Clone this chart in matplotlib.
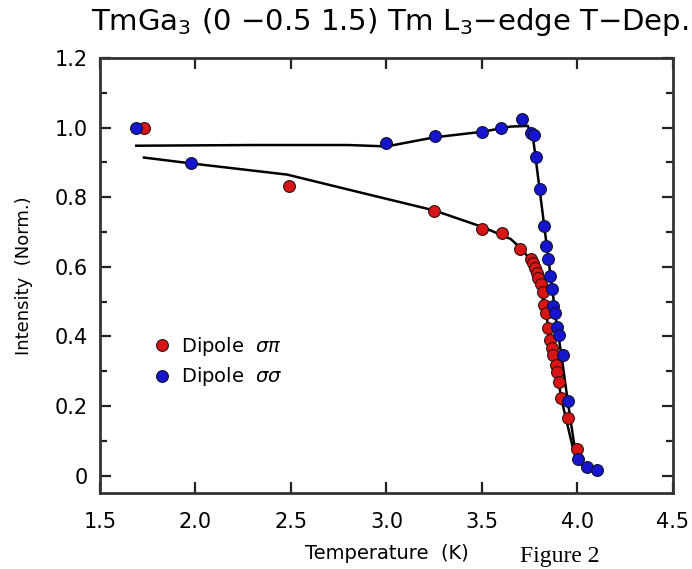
import matplotlib
matplotlib.use("Agg")
import matplotlib.pyplot as plt
from matplotlib.ticker import MultipleLocator, FuncFormatter

# sigma-sigma (blue) data
ss_T = [1.69, 1.976, 3.0, 3.254, 3.5, 3.60, 3.71, 3.757, 3.77, 3.783, 3.804, 3.825,
        3.835, 3.846, 3.856, 3.866, 3.872, 3.882, 3.893, 3.903, 3.924, 3.95, 4.003, 4.05, 4.102]
ss_I = [1.0, 0.897, 0.957, 0.977, 0.988, 1.0, 1.026, 0.986, 0.98, 0.917, 0.825, 0.716,
        0.659, 0.622, 0.573, 0.536, 0.487, 0.467, 0.427, 0.404, 0.347, 0.215, 0.049, 0.026, 0.017]

# sigma-pi (red) data
sp_T = [1.73, 2.49, 3.249, 3.5, 3.605, 3.70, 3.757, 3.767, 3.777, 3.788, 3.793, 3.809,
        3.819, 3.825, 3.835, 3.846, 3.856, 3.866, 3.872, 3.887, 3.893, 3.903, 3.914, 3.95, 3.997]
sp_I = [1.0, 0.831, 0.759, 0.708, 0.696, 0.65, 0.622, 0.61, 0.596, 0.582, 0.567, 0.55,
        0.527, 0.49, 0.467, 0.424, 0.39, 0.367, 0.347, 0.318, 0.298, 0.27, 0.224, 0.166, 0.077]

# fit curves
fit_ss_T = [1.69, 2.3, 2.8, 3.0, 3.25, 3.5, 3.65, 3.74, 3.77, 3.80, 3.83, 3.86, 3.89,
            3.92, 3.95, 3.98, 4.0, 4.05, 4.10]
fit_ss_I = [0.948, 0.950, 0.950, 0.946, 0.972, 0.988, 1.003, 1.005, 0.96, 0.83, 0.70, 0.57,
            0.44, 0.33, 0.21, 0.10, 0.05, 0.025, 0.018]
fit_sp_T = [1.73, 1.98, 2.48, 2.86, 3.25, 3.5, 3.65, 3.72, 3.77, 3.80, 3.83, 3.86, 3.89,
            3.92, 3.95, 3.98, 4.0, 4.05]
fit_sp_I = [0.914, 0.897, 0.865, 0.814, 0.762, 0.715, 0.68, 0.645, 0.60, 0.55, 0.48, 0.39,
            0.30, 0.21, 0.14, 0.07, 0.04, 0.02]

title = r"TmGa$_3$ (0 $-$0.5 1.5) Tm L$_3$$-$edge T$-$Dep."

fig = plt.figure(figsize=(6.92, 5.69), dpi=100)
ax = fig.add_axes([0.1445, 0.1336, 0.828, 0.7644])

red = "#d81515"
blue = "#1515d0"

ax.plot(fit_ss_T, fit_ss_I, color="black", lw=1.8, zorder=2)
ax.plot(fit_sp_T, fit_sp_I, color="black", lw=1.8, zorder=2)
ax.plot(sp_T, sp_I, "o", ms=8.5, mfc=red, mec="#301010", mew=0.8, zorder=3,
        label=r"Dipole  $\sigma\pi$")
ax.plot(ss_T, ss_I, "o", ms=8.5, mfc=blue, mec="#101030", mew=0.8, zorder=4,
        label=r"Dipole  $\sigma\sigma$")

ax.set_xlim(1.5, 4.5)
ax.set_ylim(-0.05, 1.2)
ax.xaxis.set_major_locator(MultipleLocator(0.5))
ax.yaxis.set_major_locator(MultipleLocator(0.2))
ax.yaxis.set_minor_locator(MultipleLocator(0.1))
ax.yaxis.set_major_formatter(FuncFormatter(lambda v, p: "0" if abs(v) < 1e-9 else f"{v:.1f}"))
ax.xaxis.set_major_formatter(FuncFormatter(lambda v, p: f"{v:.1f}"))
ax.tick_params(which="both", direction="in", top=True, right=True, width=1.6, colors="#222222",
               labelsize=15, labelcolor="black")
ax.tick_params(axis="x", which="major", length=8, pad=14)
ax.tick_params(axis="y", which="major", length=8, pad=9)
ax.tick_params(which="minor", length=5)
for s in ax.spines.values():
    s.set_linewidth(2)
    s.set_color("#333333")

ax.set_xlabel("Temperature  (K)", fontsize=14, labelpad=8, fontweight="medium")
ax.set_ylabel("Intensity  (Norm.)", fontsize=13, labelpad=15, fontweight="medium")
fig.text(0.563, 0.962, title, ha="center", va="center", fontsize=21)
fig.text(0.752, 0.022, "Figure 2", fontfamily="Liberation Serif", fontsize=17, ha="left", va="center")

ax.legend(loc="lower left", bbox_to_anchor=(0.06, 0.2), frameon=False, fontsize=14,
          handletextpad=0.5, labelspacing=0.4, handlelength=1.0)

fig.savefig("out.png", dpi=100)
